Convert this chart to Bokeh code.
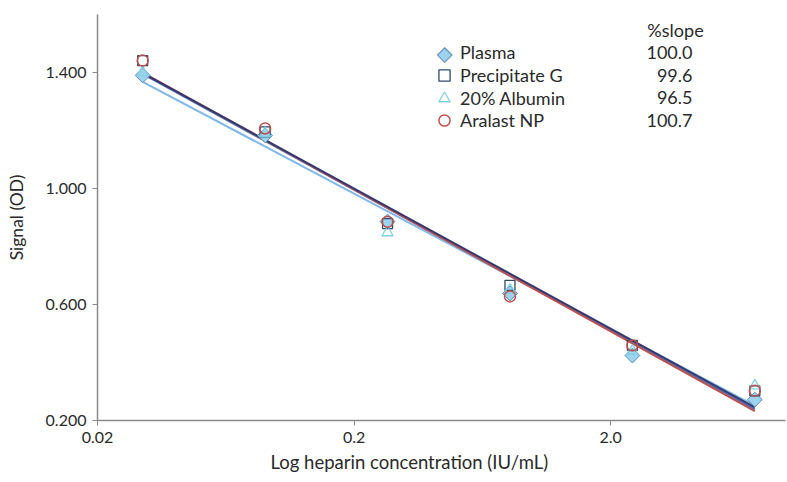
import numpy as np
from bokeh.plotting import figure
from bokeh.models import (FixedTicker, PrintfTickFormatter, Legend, LegendItem, Label,
                          ColumnDataSource, Title)
from bokeh.embed import file_html
from bokeh.resources import INLINE

# ---- data ----
conc = [0.03, 0.09, 0.27, 0.81, 2.43, 7.29]          # IU/mL
series_names = ["Plasma", "Precipitate G", "20% Albumin", "Aralast NP"]
plasma = [1.390, 1.183, 0.886, 0.638, 0.424, 0.272]
precip_g = [1.441, 1.195, 0.879, 0.666, 0.459, 0.302]
albumin = [1.400, 1.190, 0.848, 0.650, 0.440, 0.320]
aralast = [1.441, 1.207, 0.885, 0.628, 0.459, 0.303]
# fitted regression line OD at lowest and highest concentration
fit_lo = [1.395, 1.398, 1.368, 1.400]
fit_hi = [0.238, 0.245, 0.251, 0.232]
slope_pct = ["100.0", "99.6", "96.5", "100.7"]
x_ticks = [0.02, 0.2, 2.0]
x_tick_labels = ["0.02", "0.2", "2.0"]
y_ticks = [0.2, 0.6, 1.0, 1.4]

FONT = "Lato"
TXT = "#2a2a2a"

p = figure(width=787, height=482, x_axis_type="log",
           x_range=(0.02, 9.6), y_range=(0.2, 1.6),
           output_backend="svg", toolbar_location=None,
           min_border_left=97, min_border_right=2,
           min_border_top=14, min_border_bottom=62)
p.outline_line_color = None
p.xgrid.grid_line_color = None
p.ygrid.grid_line_color = None
p.background_fill_color = "white"
p.border_fill_color = "white"

for ax in (p.xaxis[0], p.yaxis[0]):
    ax.axis_line_color = "#8a8a8a"
    ax.axis_line_width = 1.5
    ax.major_tick_line_color = "#8a8a8a"
    ax.major_tick_out = 5
    ax.major_tick_in = 0
    ax.minor_tick_line_color = None
    ax.major_label_text_font = FONT
    ax.major_label_text_font_size = "16px"
    ax.major_label_text_color = TXT
    ax.major_label_standoff = 6
    ax.axis_label_text_font = FONT
    ax.axis_label_text_font_size = "17.5px"
    ax.axis_label_text_color = TXT
    ax.axis_label_text_font_style = "normal"

p.xaxis.ticker = FixedTicker(ticks=x_ticks)
p.xaxis.major_label_overrides = dict(zip(x_ticks, x_tick_labels))
p.yaxis.ticker = FixedTicker(ticks=y_ticks)
p.yaxis.formatter = PrintfTickFormatter(format="%.3f")
p.yaxis.axis_label = "Signal (OD)"
p.yaxis.axis_label_standoff = 16

p.add_layout(Title(text="Log heparin concentration (IU/mL)", align="left", offset=173,
                   standoff=6, text_font=FONT, text_font_size="18.5px",
                   text_font_style="normal", text_color=TXT), "below")

line_colors = ["#4a72b8", "#34386e", "#80b8ea", "#c0504d"]
order = [2, 0, 3, 1]
for i in order:
    p.line([conc[0], conc[-1]], [fit_lo[i], fit_hi[i]], line_color=line_colors[i], line_width=2)

pl_style = dict(fill_color="#9dd3ee", line_color="#5b8fb8", line_width=1)
pg_style = dict(fill_color=None, line_color="#2c4a6a", line_width=1.3)
al_style = dict(fill_color=None, line_color="#7fd0e0", line_width=1.3)
ar_style = dict(fill_color=None, line_color="#c0504d", line_width=1.5)

p.scatter(conc, plasma, marker="square", angle=np.pi / 4, size=10.5, **pl_style)
p.scatter(conc, precip_g, marker="square", size=10, **pg_style)
p.scatter(conc, albumin, marker="triangle", size=11, **al_style)
p.scatter(conc, aralast, marker="circle", size=11, **ar_style)

# legend-only glyphs (one off-screen NaN row each)
nan_src = lambda: ColumnDataSource(dict(x=[np.nan], y=[np.nan]))
lg = [p.scatter("x", "y", source=nan_src(), marker="square", fill_alpha=0, line_alpha=0),
      p.scatter("x", "y", source=nan_src(), marker="square", **pg_style),
      p.scatter("x", "y", source=nan_src(), marker="triangle", **al_style),
      p.scatter("x", "y", source=nan_src(), marker="circle", **ar_style)]

row_y = [354, 331, 308, 286]
for k, r in enumerate(lg):
    leg = Legend(items=[LegendItem(label=series_names[k], renderers=[r], index=0)],
                 location=(333, row_y[k]), orientation="vertical",
                 border_line_color=None, background_fill_alpha=0,
                 padding=0, margin=0, spacing=0, glyph_width=28, glyph_height=28,
                 label_height=20, label_standoff=2,
                 label_text_font=FONT, label_text_font_size="18px", label_text_color=TXT)
    p.add_layout(leg, "center")

# diamond symbol for the Plasma legend entry
p.add_layout(Label(x=347, y=368, x_units="screen", y_units="screen", text="\u25c6",
                   text_align="center", text_baseline="middle",
                   text_font="DejaVu Sans", text_font_size="19px",
                   text_color="#9dd3ee", text_outline_color="#5b8fb8"))

p.add_layout(Label(x=578, y=391, x_units="screen", y_units="screen", text="%slope",
                   text_align="center", text_baseline="middle", text_font=FONT,
                   text_font_size="18px", text_color=TXT))
for k, s in enumerate(slope_pct):
    p.add_layout(Label(x=595, y=368 - 22.7 * k, x_units="screen", y_units="screen", text=s,
                       text_align="right", text_baseline="middle", text_font=FONT,
                       text_font_size="18px", text_color=TXT))

open("out.html", "w").write(file_html(p, INLINE))
